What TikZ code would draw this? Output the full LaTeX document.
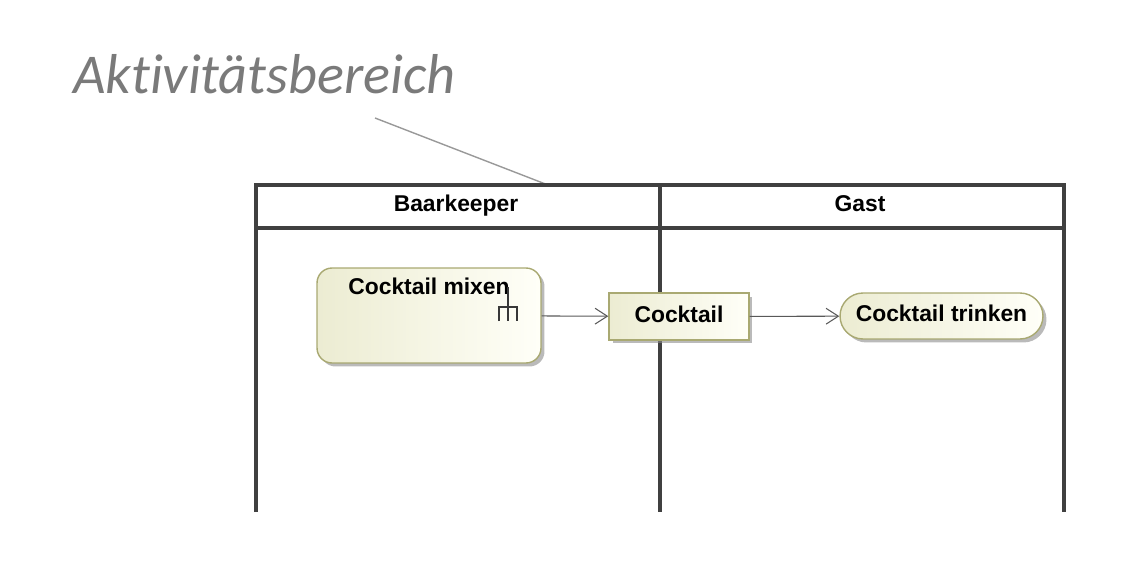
\documentclass[tikz,border=0pt]{standalone}
\usepackage{fontspec}
\setmainfont{Liberation Sans}
\newfontfamily\titlefont[Ligatures=NoCommon]{Carlito}
\usetikzlibrary{positioning, arrows.meta, shadows}
\definecolor{actleft}{HTML}{ECECD2}
\definecolor{actright}{HTML}{FFFFF8}
\definecolor{actborder}{HTML}{A9A972}
\definecolor{titlegray}{HTML}{7A7A7A}

\begin{document}
\begin{tikzpicture}[x=0.02cm, y=-0.02cm,
  lane/.style={draw=black!75, line width=1.9pt},
  lanehead/.style={anchor=base, font=\bfseries\fontsize{13}{15}\selectfont},
  elem/.style={draw=actborder, line width=0.8pt, shading=axis, left color=actleft, right color=actright,
    drop shadow={shadow xshift=0.07cm, shadow yshift=-0.07cm, fill=black!45, opacity=0.6},
    text depth=0.3em, font=\bfseries\fontsize{13}{15}\selectfont},
  action/.style={elem, rounded corners=0.3cm},
  flow/.style={draw=black!65, line width=0.6pt, -{Straight Barb[length=7pt, width=9pt]}},
  rake/.style={draw=black!78, line width=1.7pt}]
  \useasboundingbox (0,0) rectangle (1136,588);

  % title and its leader
  \node[anchor=base west, inner sep=0pt, text=titlegray, font=\titlefont\itshape\fontsize{32}{36}\selectfont]
    (title) at (73,93) {Aktivitätsbereich};
  \coordinate (leader) at (375,118);
  \coordinate (framehit) at (548,185);
  \draw[draw=black!40, line width=0.8pt] (leader) -- (framehit);

  % swimlanes
  \draw[lane] (256,512) |- (1064,185) -- (1064,512);
  \draw[lane] (256,228) -- (1064,228);
  \draw[lane] (660,185) -- (660,512);
  \node[lanehead] (bar) at (456,211) {Baarkeeper};
  \node[lanehead] (guest) at (860,211) {Gast};

  % nodes
  \node[action, minimum width=4.48cm, minimum height=1.9cm,
    label={[anchor=north, inner sep=0pt, yshift=-0.2cm, font=\bfseries\fontsize{13}{15}\selectfont]north:Cocktail mixen}]
    (mix) at (429,315.5) {};
  \node[elem, minimum width=2.8cm, minimum height=0.94cm] (drink) at (679,316.5) {Cocktail};
  \node[action, rounded corners=0.46cm, minimum width=4.06cm, minimum height=0.92cm] (sip) at (941.5,316) {Cocktail trinken};

  % rake (call behavior)
  \draw[rake] (508,287) -- (508,321) (499,321) -- (499,307) -- (517,307) -- (517,321);

  % flows
  \draw[flow] (mix) -- (drink);
  \draw[flow] (drink) -- (sip);
\end{tikzpicture}
\end{document}
